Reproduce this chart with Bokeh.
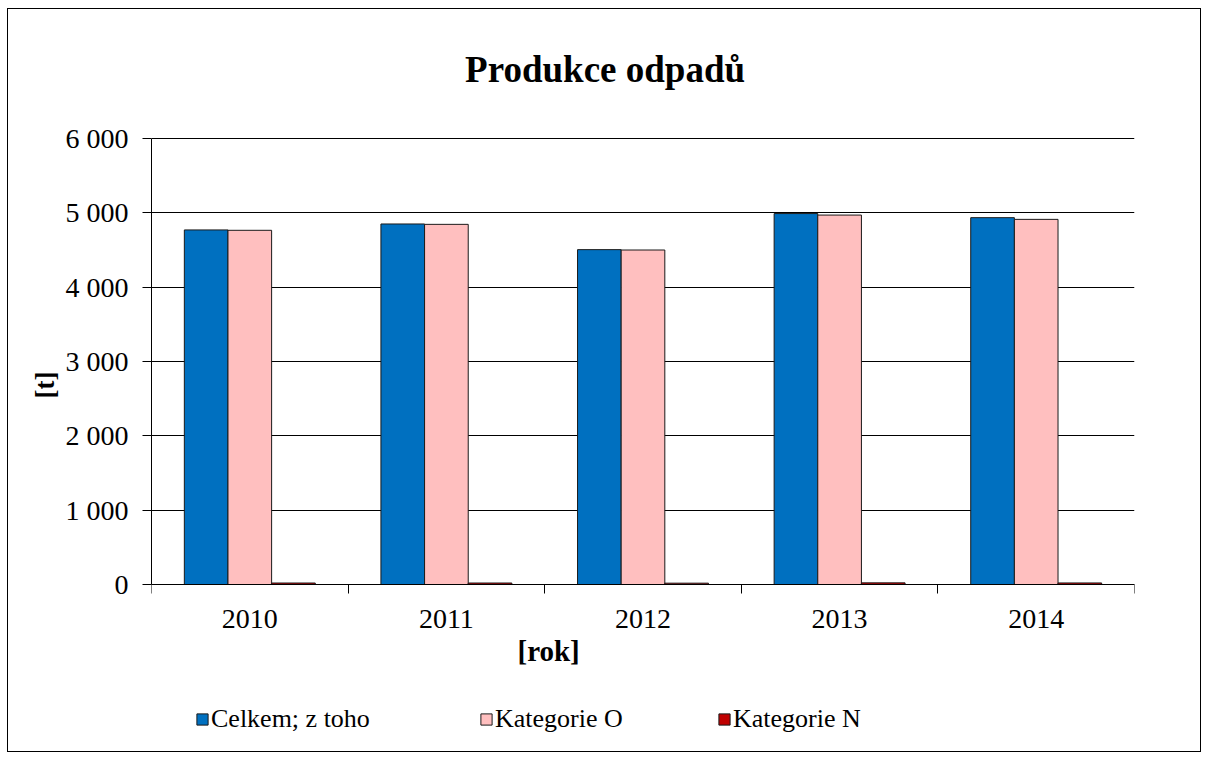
import numpy as np
from bokeh.plotting import figure
from bokeh.models import (Range1d, FixedTicker, ColumnDataSource, Legend,
                          LegendItem, Label, Title)
from bokeh.transform import dodge
from bokeh.embed import file_html
from bokeh.resources import INLINE

# ---- data ----
years = ["2010", "2011", "2012", "2013", "2014"]
celkem = [4770, 4850, 4505, 4990, 4935]
kat_o = [4765, 4845, 4500, 4970, 4912]
kat_n = [20, 20, 18, 22, 21]
series_names = ["Celkem; z toho", "Kategorie O", "Kategorie N"]
y_ticks = [0, 1000, 2000, 3000, 4000, 5000, 6000]
y_tick_labels = ["0", "1 000", "2 000", "3 000", "4 000", "5 000", "6 000"]
title_text = "Produkce odpadů"
x_title = "[rok]"
y_title = "[t]"

# ---- styles / layout (pixels) ----
colors = ["#0070C0", "#FFBFBF", "#C00000"]
FONT = "Liberation Serif"
W, H = 1194, 744
BORDER_TOP, BORDER_BOTTOM = 5, 5
PAGE_OFF = 9                      # page offset of the canvas (margin + border)
AXIS_TOP_PX, AXIS_ZERO_PX = 138, 584
frame_top_px = PAGE_OFF + BORDER_TOP
frame_bot_px = PAGE_OFF + H - BORDER_BOTTOM
y_max = y_ticks[-1]
px_per_unit = (AXIS_ZERO_PX - AXIS_TOP_PX) / y_max
range_top = y_max + (AXIS_TOP_PX - frame_top_px) / px_per_unit
range_bot = -(frame_bot_px - AXIS_ZERO_PX) / px_per_unit

def y_at(px):
    """value on the y scale that sits at page pixel row px"""
    return (AXIS_ZERO_PX - px) / px_per_unit

centers = np.arange(len(years)) + 0.5
bar_w = 0.222
offsets = [-0.222, 0.0, 0.222]

src = ColumnDataSource(dict(c=centers, celkem=celkem, kat_o=kat_o, kat_n=kat_n))

p = figure(width=W, height=H, output_backend="svg", toolbar_location=None,
           x_range=Range1d(0, len(years)),
           y_range=Range1d(range_bot, range_top),
           min_border_left=143, min_border_right=68,
           min_border_top=BORDER_TOP, min_border_bottom=BORDER_BOTTOM)
p.styles = {"border": "1.5px solid #000000", "margin-left": "7px",
            "margin-top": "8px"}
p.outline_line_color = None
p.background_fill_color = "white"
p.border_fill_color = "white"

fields = ["celkem", "kat_o", "kat_n"]
renderers = []
for f, off, col in zip(fields, offsets, colors):
    r = p.vbar(x=dodge("c", off), top=f, bottom=0, width=bar_w, source=src,
               fill_color=col, line_color="#1a1a1a", line_width=1)
    renderers.append(r)

# grid
p.xgrid.grid_line_color = None
p.ygrid.ticker = FixedTicker(ticks=y_ticks)
p.ygrid.grid_line_color = "#000000"
p.ygrid.grid_line_width = 1
p.ygrid.level = "underlay"

# y axis
ya = p.yaxis[0]
ya.ticker = FixedTicker(ticks=y_ticks)
ya.bounds = (0, y_max)
ya.major_label_overrides = {t: s for t, s in zip(y_ticks, y_tick_labels)}
ya.major_tick_out = 9
ya.major_tick_in = 0
ya.minor_tick_line_color = None
ya.axis_line_color = "#000000"
ya.major_tick_line_color = "#000000"
ya.major_label_text_font = FONT
ya.major_label_text_font_size = "28px"
ya.major_label_text_color = "#000000"
ya.major_label_standoff = 14

# y title in the left panel, next to the axis
yt = Title(text=y_title, align="right", offset=371 - frame_top_px, standoff=6,
           text_font=FONT, text_font_size="27px", text_font_style="bold",
           text_color="#000000")
p.add_layout(yt, "left")

# x axis, pinned at value 0
xa = p.xaxis[0]
xa.fixed_location = 0
xa.ticker = FixedTicker(ticks=list(centers),
                        minor_ticks=list(range(len(years) + 1)))
xa.major_label_overrides = {float(c): y for c, y in zip(centers, years)}
xa.major_tick_line_color = None
xa.major_tick_out = 0
xa.major_tick_in = 0
xa.minor_tick_out = 9
xa.minor_tick_in = 0
xa.minor_tick_line_color = "#000000"
xa.axis_line_color = "#000000"
xa.major_label_text_font = FONT
xa.major_label_text_font_size = "28px"
xa.major_label_text_color = "#000000"
xa.major_label_standoff = 16

# chart title
p.add_layout(Label(x=1.595, y=y_at(69), text=title_text, text_font=FONT,
                   text_font_size="37px", text_font_style="bold",
                   text_align="left", text_baseline="alphabetic",
                   text_color="#000000"))

# x title
p.add_layout(Label(x=2.02, y=y_at(650), text=x_title, text_font=FONT,
                   text_font_size="29px", text_font_style="bold",
                   text_align="center", text_baseline="middle",
                   text_color="#000000"))

# legends (one per item, placed like the original)
leg_x = [44, 328, 566]
for name, r, lx in zip(series_names, renderers, leg_x):
    lg = Legend(items=[LegendItem(label=name, renderers=[r])],
                location=(lx, 14), orientation="horizontal",
                padding=0, margin=0, spacing=0,
                glyph_width=14, glyph_height=14, label_standoff=2,
                label_text_font=FONT, label_text_font_size="26px",
                label_text_color="#000000",
                border_line_color=None, background_fill_alpha=0)
    p.add_layout(lg, "center")

open("out.html", "w").write(file_html(p, INLINE))
